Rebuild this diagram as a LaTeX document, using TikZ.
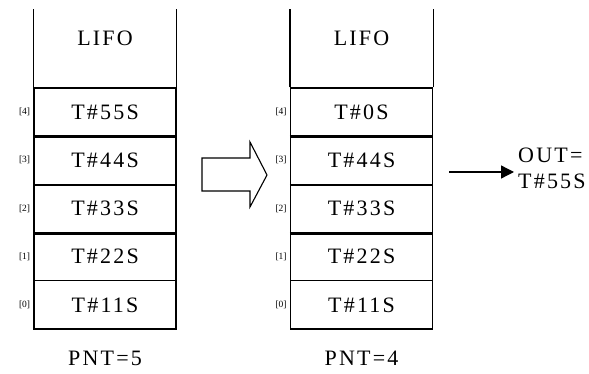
\documentclass[tikz,border=0pt]{standalone}
\usepackage{fontspec}
\usepackage{tikz}
\usetikzlibrary{arrows.meta,positioning}
\newfontfamily\plcfont[LetterSpace=10]{Liberation Serif}
\newfontfamily\idxfont{Liberation Serif}

\tikzset{
  cell/.style={draw, line width=1.3pt, minimum width=142pt, minimum height=48.2pt,
    inner sep=0pt, font=\plcfont\fontsize{22}{26}\selectfont},
  idx/.style={font=\idxfont\fontsize{9.5}{10}\selectfont, inner sep=0pt},
  caption/.style={font=\plcfont\fontsize{22}{26}\selectfont, inner sep=0pt},
  divider/.style={line width=2.8pt},
}

\begin{document}
\begin{tikzpicture}[x=1pt, y=-1pt]
  \useasboundingbox (0,0) rectangle (589,374);

  % before: stack with five entries
  \node[caption] (lifoA) at (105,38) {LIFO};
  \foreach \i/\v in {4/55, 3/44, 2/33, 1/22, 0/11} {
    \node[cell] (a\i) at (105, {88 + 48.2*(4-\i) + 24.1}) {T\#\v S};
    \node[idx, left=3pt of a\i.west] (ia\i) {[\i]};
  }
  \draw[line width=1.3pt] (a4.north west) -- ++(0,-78);
  \draw[line width=1.3pt] (a4.north east) -- ++(0,-78);
  \foreach \i in {4,3,2}
    \draw[divider] (a\i.south west) -- (a\i.south east);
  \node[caption] (pntA) at (105,358) {PNT=5};

  % after: top entry taken out
  \node[caption] (lifoB) at (361.5,38) {LIFO};
  \foreach \i/\v in {4/0, 3/44, 2/33, 1/22, 0/11} {
    \node[cell] (b\i) at (361.5, {88 + 48.2*(4-\i) + 24.1}) {T\#\v S};
    \node[idx, left=3pt of b\i.west] (ib\i) {[\i]};
  }
  \draw[line width=1.3pt] (b4.north west) -- ++(0,-78);
  \draw[line width=1.3pt] (b4.north east) -- ++(0,-78);
  \foreach \i in {4,3,2}
    \draw[divider] (b\i.south west) -- (b\i.south east);
  \node[caption] (pntB) at (361.5,358) {PNT=4};

  % big hollow arrow
  \draw[line width=1.1pt] (202,158) -- (250,158) -- (250,142) -- (267,175)
    -- (250,207) -- (250,191) -- (202,191) -- cycle;

  % output
  \node[caption, align=left, anchor=west] (out) at (518,168) {OUT=\\T\#55S};
  \coordinate (outstart) at (449,172);
  \draw[line width=1.3pt, -{Triangle[length=13pt, width=13pt]}]
    (outstart) -- ([xshift=-4pt]out.west |- outstart);
\end{tikzpicture}
\end{document}
